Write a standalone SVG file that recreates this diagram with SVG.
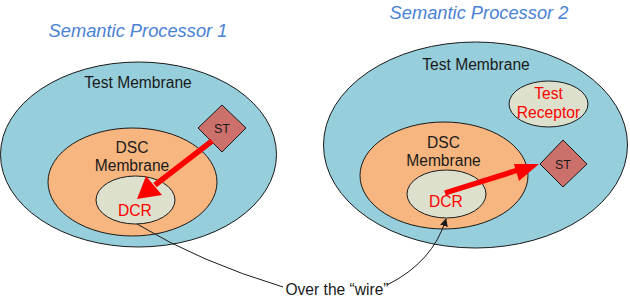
<svg xmlns="http://www.w3.org/2000/svg" width="630" height="306" viewBox="0 0 630 306">
  <style>
    text { font-family: "Liberation Sans", Arial, sans-serif; font-size: 15.6px; fill: #1a1a1a; text-anchor: middle; }
    .title { font-style: italic; font-size: 18.3px; fill: #4a82d4; }
    .red { fill: #ff0000; }
    .st { font-size: 12.5px; }
    .outer { fill: #96cedb; stroke: #1a1a1a; stroke-width: 1; }
    .dsc { fill: #f7b67f; stroke: #1a1a1a; stroke-width: 1; }
    .core { fill: #dce0cc; stroke: #1a1a1a; stroke-width: 1; }
    .diamond { fill: #cc706b; stroke: #1a1a1a; stroke-width: 1; }
    .signal { stroke: #ff0000; stroke-width: 5.5; fill: none; }
    .head { fill: #ff0000; }
    .wire { stroke: #1a1a1a; stroke-width: 1; fill: none; }
  </style>
  <defs>
    <marker id="wireHead" viewBox="0 0 10 10" refX="9" refY="5" markerWidth="8" markerHeight="8" markerUnits="userSpaceOnUse" orient="auto">
      <path d="M0,0 L10,5 L0,10 z" fill="#1a1a1a"/>
    </marker>
  </defs>

  <!-- Processor 1 -->
  <g id="processor1">
    <text class="title" x="138" y="37">Semantic Processor 1</text>
    <g id="p1-test-membrane">
      <ellipse class="outer" cx="138.5" cy="154.5" rx="138" ry="92.5"/>
      <text x="138" y="88">Test Membrane</text>
    </g>
    <g id="p1-dsc-membrane">
      <ellipse class="dsc" cx="132.5" cy="182" rx="84.5" ry="54"/>
      <text x="132" y="153">DSC</text>
      <text x="132" y="171">Membrane</text>
    </g>
    <g id="p1-dcr">
      <ellipse class="core" cx="135.5" cy="200" rx="39.5" ry="24"/>
      <text class="red" x="135" y="216">DCR</text>
    </g>
    <g id="p1-st">
      <polygon class="diamond" points="222,105 246,128 222,152 198,128"/>
      <text class="st" x="222" y="132.5">ST</text>
    </g>
  </g>

  <!-- Processor 2 -->
  <g id="processor2">
    <text class="title" x="479" y="19">Semantic Processor 2</text>
    <g id="p2-test-membrane">
      <ellipse class="outer" cx="475.5" cy="145" rx="152" ry="103"/>
      <text x="476" y="70">Test Membrane</text>
    </g>
    <g id="p2-test-receptor">
      <ellipse class="core" cx="548.5" cy="104" rx="39.5" ry="23"/>
      <text class="red" x="548.5" y="99">Test</text>
      <text class="red" x="548.5" y="118">Receptor</text>
    </g>
    <g id="p2-dsc-membrane">
      <ellipse class="dsc" cx="444" cy="175.5" rx="84" ry="53.5"/>
      <text x="443.5" y="148">DSC</text>
      <text x="443.5" y="166">Membrane</text>
    </g>
    <g id="p2-dcr">
      <ellipse class="core" cx="446.5" cy="194" rx="39.5" ry="24"/>
      <text class="red" x="446" y="207">DCR</text>
    </g>
    <g id="p2-st">
      <polygon class="diamond" points="563,140 587,164 563,187 540,164"/>
      <text class="st" x="563" y="168.5">ST</text>
    </g>
  </g>

  <g id="wire-label">
    <text x="337" y="295">Over the “wire”</text>
  </g>

  <!-- Connectors -->
  <g id="connectors">
    <!-- ST to DCR, processor 1 -->
    <line class="signal" x1="212" y1="141" x2="155" y2="185"/>
    <polygon class="head" points="137,199 146,176 162,195"/>
    <!-- DCR to ST, processor 2 -->
    <line class="signal" x1="445" y1="193" x2="518" y2="170"/>
    <polygon class="head" points="539,164 514,164 519,181"/>
    <!-- the wire between the two DCRs -->
    <path class="wire" d="M137,224 Q200,262 283,287"/>
    <path class="wire" d="M387,285 Q433,262 446,219" marker-end="url(#wireHead)"/>
  </g>
</svg>
